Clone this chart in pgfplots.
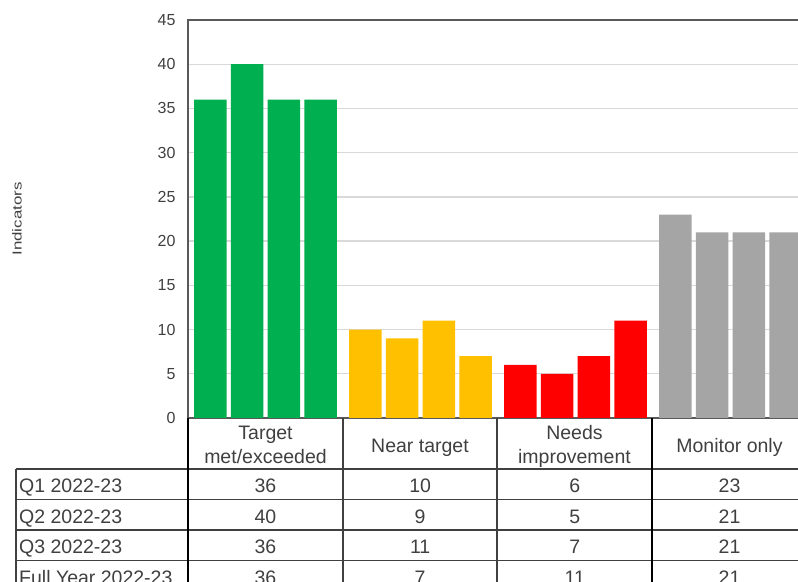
\documentclass[border=0pt]{standalone}
\usepackage{pgfplots}
\pgfplotsset{compat=1.18}
\usepackage{pgfplotstable}
\usepackage{graphicx}
\usepackage{fontspec}
\setmainfont{Liberation Sans}
\definecolor{cgreen}{HTML}{00B050}
\definecolor{camber}{HTML}{FFC000}
\definecolor{cred}{HTML}{FF0000}
\definecolor{cgrey}{HTML}{A5A5A5}
\definecolor{gridc}{HTML}{D9D9D9}
\definecolor{axc}{HTML}{595959}
\definecolor{txt}{HTML}{404040}
\definecolor{tbl}{HTML}{404040}

\pgfplotstableread{
q met near needs mon
1 36  10   6    23
2 40  9    5    21
3 36  11   7    21
4 36  7    11   21
}\data

\begin{document}
\begin{tikzpicture}
\useasboundingbox (0,0) rectangle (798bp,582bp);
\clip (0,0) rectangle (798bp,582bp);
\begin{axis}[
  at={(188bp,164bp)}, anchor=south west,
  scale only axis, width=620bp, height=398bp,
  xmin=-0.5, xmax=3.5, ymin=0, ymax=45,
  ytick={0,5,...,45}, xtick=\empty,
  ymajorgrids, grid style={gridc, line width=1.3bp},
  major tick length=0pt,
  axis line style={axc, line width=1.6bp},
  yticklabel style={font=\fontsize{16bp}{18bp}\selectfont, text=txt, xshift=-9bp},
  /pgf/number format/assume math mode=true,
]
\addplot[ybar, bar width=0.21, bar shift=0, fill=cgreen, draw=none]
  table[x expr={(\thisrow{q}-2.5)*0.2375}, y=met]{\data};
\addplot[ybar, bar width=0.21, bar shift=0, fill=camber, draw=none]
  table[x expr={1+(\thisrow{q}-2.5)*0.2375}, y=near]{\data};
\addplot[ybar, bar width=0.21, bar shift=0, fill=cred, draw=none]
  table[x expr={2+(\thisrow{q}-2.5)*0.2375}, y=needs]{\data};
\addplot[ybar, bar width=0.21, bar shift=0, fill=cgrey, draw=none]
  table[x expr={3+(\thisrow{q}-2.5)*0.2375}, y=mon]{\data};
\end{axis}
\begin{scope}[x=1bp, y=1bp]
  % y label
  \node[rotate=90, font=\fontsize{13bp}{15bp}\selectfont, text=txt] at (17,363) {\scalebox{1.3}[1]{Indicators}};
  % table lines
  \foreach \yy in {113,82.5,52,21.5} \draw[tbl, line width=1.4bp] (16,\yy) -- (810,\yy);
  \draw[tbl, line width=1.4bp] (16,113) -- (16,-10);
  \draw[black, line width=1.8bp] (188,164) -- (188,-10);
  \draw[tbl, line width=1.4bp] (343,164) -- (343,-10);
  \draw[tbl, line width=1.4bp] (497,164) -- (497,-10);
  \draw[black, line width=1.6bp] (652,164) -- (652,-10);
  % header
  \begin{scope}[every node/.style={font=\fontsize{19.5bp}{24bp}\selectfont, text=txt, inner sep=0pt, anchor=base}]
    \node at (265.5,143) {Target};
    \node at (265.5,119) {met/exceeded};
    \node at (420,130) {Near target};
    \node at (574.5,143) {Needs};
    \node at (574.5,119) {improvement};
    \node at (729.5,130) {Monitor only};
    % row labels
    \node[anchor=base west] at (19,89.5) {Q1 2022-23};
    \node[anchor=base west] at (19,59) {Q2 2022-23};
    \node[anchor=base west] at (19,28.5) {Q3 2022-23};
    \node[anchor=base west] at (19,-2) {Full Year 2022-23};
    % values
    \foreach \v [count=\i from 0] in {36,10,6,23} \node at (265.5+154.67*\i,89.5) {\v};
    \foreach \v [count=\i from 0] in {40,9,5,21} \node at (265.5+154.67*\i,59) {\v};
    \foreach \v [count=\i from 0] in {36,11,7,21} \node at (265.5+154.67*\i,28.5) {\v};
    \foreach \v [count=\i from 0] in {36,7,11,21} \node at (265.5+154.67*\i,-2) {\v};
  \end{scope}
\end{scope}
\end{tikzpicture}
\end{document}
